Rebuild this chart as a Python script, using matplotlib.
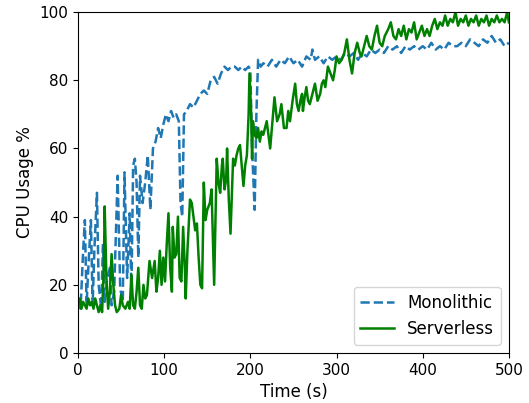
import numpy as np
import matplotlib
matplotlib.use("Agg")
import matplotlib.pyplot as plt

# Monolithic (dashed blue)
mono_t = [0, 3, 6, 8, 10, 12, 15, 17, 19, 22, 24, 27, 29, 31, 34, 37, 39, 42, 46, 49,
          52, 54, 57, 60, 62, 64, 66, 68, 70, 72, 75, 78, 81, 84, 87, 90, 93, 96, 99, 102,
          105, 108, 111, 114, 117, 119, 121, 123, 126, 130, 134, 138, 142, 146, 150, 154,
          158, 162, 166, 170, 174, 178, 182, 186, 190, 194, 198, 200, 202, 205, 207, 209,
          212, 215, 220, 225, 230, 235, 240, 245, 250, 255, 260, 265, 270, 272, 275, 280,
          285, 290, 295, 300, 305, 310, 315, 320, 325, 330, 335, 340, 345, 350, 355, 360,
          365, 370, 375, 380, 385, 390, 395, 400, 405, 410, 415, 420, 425, 430, 435, 440,
          445, 450, 455, 460, 465, 470, 475, 480, 485, 490, 495, 500]
mono_v = [15, 13, 30, 39, 14, 25, 39, 14, 30, 47, 20, 13, 32, 15, 22, 25, 14, 18, 52, 19,
          15, 53, 22, 41, 18, 55, 57, 50, 28, 52, 44, 50, 58, 42, 60, 62, 66, 63, 67, 70,
          68, 71, 69, 70, 68, 44, 40, 70, 71, 73, 72, 74, 76, 77, 76, 80,
          81, 79, 82, 84, 83, 84, 84, 83, 84, 83, 84, 83, 60, 42, 70, 86,
          84, 85, 84, 86, 84, 86, 85, 87, 85, 86, 84, 87, 86, 89, 86, 87,
          85, 87, 86, 87, 86, 88, 87, 88, 86, 88, 87, 89, 88, 89, 88, 90,
          89, 90, 88, 90, 89, 90, 89, 90, 89, 91, 89, 90, 89, 91, 90, 90,
          91, 90, 92, 91, 90, 92, 91, 93, 91, 92, 90, 91]

# Serverless (solid green)
serv_t = [0, 2, 4, 6, 8, 10, 12, 14, 16, 18, 20, 22, 24, 26, 28, 30, 31, 33, 35, 37,
          39, 41, 43, 45, 48, 50, 52, 55, 58, 60, 62, 64, 66, 68, 70, 72, 74, 76, 78, 80,
          83, 86, 89, 91, 93, 95, 97, 99, 101, 103, 105, 107, 109, 110, 112, 114, 116, 118,
          120, 122, 124, 125, 127, 130, 132, 134, 136, 138, 140, 142, 144, 146, 148, 150,
          153, 155, 158, 161, 163, 165, 167, 168, 170, 172, 173, 175, 177, 180, 182, 184,
          186, 188, 190, 192, 194, 196, 198, 199, 201, 202, 203, 205, 207, 209, 211, 213,
          215, 217, 219, 221, 223, 225, 228, 231, 234, 236, 239, 242, 244, 246, 249, 252,
          254, 256, 258, 260, 261, 263, 265, 267, 269, 272, 275, 278, 281, 283, 285, 287,
          290, 293, 296, 298, 300, 303, 306, 309, 312, 315, 318, 321, 324, 327, 329, 332,
          335, 338, 341, 344, 347, 350, 353, 356, 360, 363, 366, 369, 372, 375, 378, 381,
          384, 387, 390, 393, 396, 399, 402, 405, 408, 411, 414, 417, 420, 423, 426, 429,
          432, 435, 438, 441, 444, 447, 450, 453, 456, 459, 462, 465, 468, 471, 474, 477,
          480, 483, 486, 489, 492, 495, 498, 500]
serv_v = [15, 16, 13, 15, 14, 13, 16, 14, 15, 13, 16, 14, 12, 14, 12, 25, 43, 22, 13, 18,
          29, 20, 14, 12, 13, 17, 14, 13, 15, 13, 23, 14, 13, 18, 25, 14, 13, 20, 16, 17,
          27, 22, 27, 18, 22, 30, 20, 28, 21, 32, 41, 25, 18, 37, 28, 29, 40, 22,
          21, 37, 25, 16, 30, 45, 44, 40, 36, 38, 28, 20, 19, 50, 39, 42,
          44, 48, 20, 57, 50, 47, 55, 57, 48, 51, 60, 45, 35, 57, 55, 58,
          60, 61, 55, 49, 55, 58, 70, 82, 70, 57, 68, 64, 63, 66, 62, 65,
          64, 66, 68, 64, 60, 66, 75, 68, 70, 73, 66, 66, 71, 68, 74, 79,
          73, 71, 74, 76, 71, 75, 78, 74, 73, 76, 79, 74, 76, 79, 80, 78,
          84, 82, 80, 83, 87, 85, 86, 88, 92, 86, 82, 88, 91, 88, 87, 90,
          93, 90, 89, 93, 96, 91, 90, 93, 95, 97, 93, 92, 95, 93, 96, 92,
          95, 94, 97, 92, 94, 96, 93, 95, 93, 96, 98, 95, 97, 96, 99, 96,
          98, 97, 100, 96, 98, 97, 99, 96, 98, 97, 99, 96, 98, 97, 99, 96,
          98, 97, 99, 97, 98, 97, 100, 97]

fig = plt.figure(figsize=(5.29, 4.03), dpi=100)
ax = fig.add_axes([0.1474, 0.124, 0.8146, 0.846])

ax.plot(mono_t, mono_v, linestyle='--', color='tab:blue', linewidth=1.8, label='Monolithic')
ax.plot(serv_t, serv_v, linestyle='-', color='green', linewidth=1.8, label='Serverless')

ax.set_xlim(0, 500)
ax.set_ylim(0, 100)
ax.set_xticks([0, 100, 200, 300, 400, 500])
ax.set_yticks([0, 20, 40, 60, 80, 100])
ax.tick_params(labelsize=11)
ax.set_xlabel('Time (s)', fontsize=12)
ax.set_ylabel('CPU Usage %', fontsize=12)
ax.legend(loc='lower right', fontsize=12)

fig.savefig('out.png', dpi=100)
